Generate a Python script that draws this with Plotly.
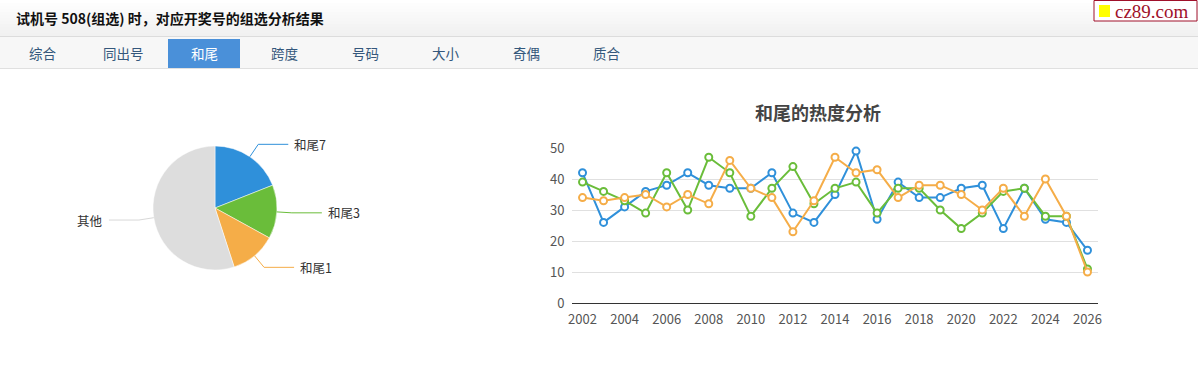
import math
import plotly.graph_objects as go

# ---------------- data ----------------
years = list(range(2002, 2027))
series_names = ["和尾7", "和尾3", "和尾1"]
blue_vals = [42, 26, 31, 36, 38, 42, 38, 37, 37, 42, 29, 26, 35, 49, 27, 39, 34, 34, 37, 38, 24, 37, 27, 26, 17]
green_vals = [39, 36, 33, 29, 42, 30, 47, 42, 28, 37, 44, 32, 37, 39, 29, 37, 37, 30, 24, 29, 36, 37, 28, 28, 11]
orange_vals = [34, 33, 34, 35, 31, 35, 32, 46, 37, 34, 23, 33, 47, 42, 43, 34, 38, 38, 35, 30, 37, 28, 40, 28, 10]

pie_labels = ["和尾7", "和尾3", "和尾1", "其他"]
pie_values = [19, 14, 12, 55]

tab_labels = ["综合", "同出号", "和尾", "跨度", "号码", "大小", "奇偶", "质合"]
active_tab = "和尾"
header_title = "试机号 508(组选) 时，对应开奖号的组选分析结果"
chart_title = "和尾的热度分析"
y_ticks = [0, 10, 20, 30, 40, 50]

# ---------------- style ----------------
W, H = 1198, 383
FONT = "Noto Sans CJK SC, Microsoft YaHei, sans-serif"
BLUE, GREEN, ORANGE, GREY = "#2f90da", "#6abd3a", "#f5ad48", "#dddddd"
pie_colors = [BLUE, GREEN, ORANGE, GREY]
line_colors = [BLUE, GREEN, ORANGE]


def px(x):
    return x / W


def py(y):
    return 1 - y / H


fig = go.Figure()
shapes = []
annotations = []

# header gradient band
n_bands = 12
for i in range(n_bands):
    t = i / (n_bands - 1)
    c = int(255 - 14 * t)
    shapes.append(dict(type="rect", xref="paper", yref="paper", x0=0, x1=1,
                       y0=py(36 * (i + 1) / n_bands), y1=py(36 * i / n_bands),
                       fillcolor=f"rgb({c},{c},{c})", line=dict(width=0), layer="below"))
shapes.append(dict(type="line", xref="paper", yref="paper", x0=0, x1=1, y0=py(36.5), y1=py(36.5),
                   line=dict(color="#dcdcdc", width=1)))
# tab bar
shapes.append(dict(type="rect", xref="paper", yref="paper", x0=0, x1=1, y0=py(68), y1=py(37),
                   fillcolor="#f7f7f7", line=dict(width=0), layer="below"))
shapes.append(dict(type="line", xref="paper", yref="paper", x0=0, x1=1, y0=py(68.5), y1=py(68.5),
                   line=dict(color="#e0e0e0", width=1)))

annotations.append(dict(text=f"<b>{header_title}</b>", xref="paper", yref="paper",
                        x=px(14), y=py(18), xanchor="left", yanchor="middle", showarrow=False,
                        font=dict(family=FONT, size=14, color="#111111")))

for i, lab in enumerate(tab_labels):
    cx = 43 + 80.5 * i
    if lab == active_tab:
        shapes.append(dict(type="rect", xref="paper", yref="paper", x0=px(168), x1=px(240),
                           y0=py(68), y1=py(39), fillcolor="#4a90d9", line=dict(width=0)))
        col = "#ffffff"
    else:
        col = "#34577c"
    annotations.append(dict(text=lab, xref="paper", yref="paper", x=px(cx), y=py(53),
                            xanchor="center", yanchor="middle", showarrow=False,
                            font=dict(family=FONT, size=13.5, color=col)))

# logo
shapes.append(dict(type="rect", xref="paper", yref="paper", x0=px(1094), x1=px(1197), y0=py(21), y1=py(0.5),
                   fillcolor="#ffffff", line=dict(color="#a0102a", width=1)))
shapes.append(dict(type="rect", xref="paper", yref="paper", x0=px(1099), x1=px(1110), y0=py(17), y1=py(5),
                   fillcolor="#ffff00", line=dict(width=0)))
annotations.append(dict(text="cz89.com", xref="paper", yref="paper", x=px(1113), y=py(11),
                        xanchor="left", yanchor="middle", showarrow=False,
                        font=dict(family="Liberation Serif, DejaVu Serif, serif", size=19, color="#a0102a")))

# ---------------- pie ----------------
PCX, PCY, PR = 215, 208, 62
fig.add_trace(go.Pie(labels=pie_labels, values=pie_values, sort=False, direction="clockwise",
                     rotation=0, textinfo="none", hoverinfo="label+value+percent",
                     marker=dict(colors=pie_colors, line=dict(color="#ffffff", width=0.5)),
                     domain=dict(x=[px(PCX - PR), px(PCX + PR)], y=[py(PCY + PR), py(PCY - PR)]),
                     showlegend=False))

total = sum(pie_values)
acc = 0
L1, L2 = 15, 30
for lab, v, col in zip(pie_labels, pie_values, pie_colors):
    mid = (acc + v / 2) / total * 2 * math.pi
    acc += v
    sx, sy = PCX + PR * math.sin(mid), PCY - PR * math.cos(mid)
    mx, my = PCX + (PR + L1) * math.sin(mid), PCY - (PR + L1) * math.cos(mid)
    right = math.sin(mid) >= 0
    ex = mx + L2 if right else mx - L2
    lc = "#d8d8d8" if col == GREY else col
    shapes.append(dict(type="path", xref="paper", yref="paper",
                       path=f"M {px(sx)} {py(sy)} L {px(mx)} {py(my)} L {px(ex)} {py(my)}",
                       line=dict(color=lc, width=1)))
    annotations.append(dict(text=lab, xref="paper", yref="paper",
                            x=px(ex + 4 if right else ex - 4), y=py(my),
                            xanchor="left" if right else "right", yanchor="middle", showarrow=False,
                            font=dict(family=FONT, size=12.5, color="#333333")))

# ---------------- line chart ----------------
for name, vals, col in zip(series_names, [blue_vals, green_vals, orange_vals], line_colors):
    fig.add_trace(go.Scatter(x=years, y=vals, name=name, mode="lines+markers",
                             line=dict(color=col, width=2),
                             marker=dict(symbol="circle", size=7, color="#ffffff",
                                         line=dict(color=col, width=2)),
                             cliponaxis=False,
                             showlegend=False, xaxis="x", yaxis="y"))

annotations.append(dict(text=f"<b>{chart_title}</b>", xref="paper", yref="paper", x=px(818), y=py(112),
                        xanchor="center", yanchor="middle", showarrow=False,
                        font=dict(family=FONT, size=18, color="#444444")))

fig.update_layout(
    width=W, height=H,
    margin=dict(l=0, r=0, t=0, b=0, pad=0, autoexpand=False),
    paper_bgcolor="#ffffff", plot_bgcolor="#ffffff",
    font=dict(family=FONT, size=12, color="#555555"),
    xaxis=dict(domain=[px(572), px(1098)], range=[2001.5, 2026.5], tickmode="linear", tick0=2002, dtick=2,
               showgrid=False, zeroline=False, showline=True, linecolor="#333333", linewidth=1,
               ticks="outside", ticklen=4, tickcolor="rgba(0,0,0,0)", automargin=False,
               tickfont=dict(family=FONT, size=13, color="#555555"), anchor="y"),
    yaxis=dict(domain=[py(303), py(148)], range=[0, 50], tickvals=y_ticks,
               showgrid=True, gridcolor="#e0e0e0", gridwidth=1, zeroline=False, showline=False,
               ticks="outside", ticklen=4, tickcolor="rgba(0,0,0,0)", automargin=False,
               tickfont=dict(family=FONT, size=13, color="#555555"), anchor="x"),
    shapes=shapes,
    annotations=annotations,
    hovermode="closest",
)

fig.write_html("out.html", config={"displayModeBar": False},
               post_script="document.body.style.margin='0';document.body.style.overflow='hidden';")
